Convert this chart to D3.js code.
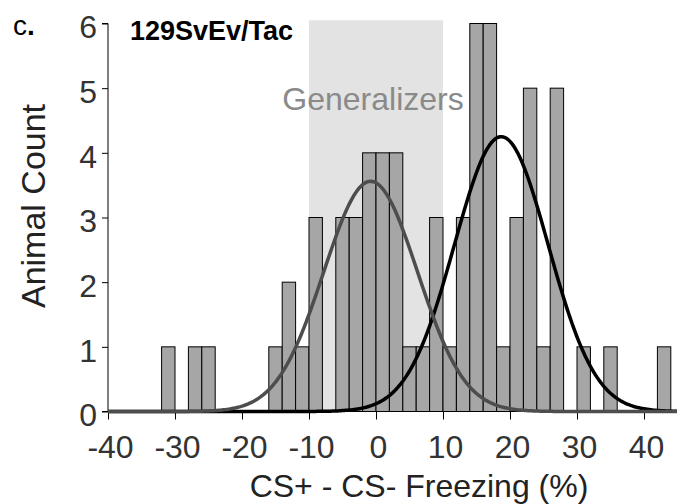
<!DOCTYPE html>
<html>
<head>
<meta charset="utf-8">
<script src="https://cdn.jsdelivr.net/npm/d3@7"></script>
<style>
  body { margin: 0; background: #fff; }
  text { font-family: "Liberation Sans", Arial, sans-serif; }
</style>
</head>
<body>
<svg id="chart" width="677" height="504"></svg>
<script>
// histogram bins (left edge, width 2) and counts
var binStarts = [-32, -28, -26, -16, -14, -12, -10, -6, -4, -2, 0, 2, 4, 6, 8, 10, 12, 14, 16, 18, 20, 22, 24, 26, 30, 34, 42];
var counts    = [  1,   1,   1,   1,   2,   1,   3,  3,  3,  4, 4, 4, 1, 1, 3,  1,  3,  6,  6,  1,  3,  5,  1,  5,  1,  1,  1];
var binWidth = 2;

// gaussian fits: [mean, sd, peak]
var fitNames = ["discriminators", "generalizers"];
var fitParams = [[18.7, 7.0, 4.25], [-0.8, 7.0, 3.56]];
var fitColors = ["#000000", "#4d4d4d"];

var xTicks = [-40, -30, -20, -10, 0, 10, 20, 30, 40];
var yTicks = [0, 1, 2, 3, 4, 5, 6];
var shadeRange = [-10, 10];

var svg = d3.select("#chart");
var x = d3.scaleLinear().domain([-40, 40]).range([108, 644]);
var y = d3.scaleLinear().domain([0, 6]).range([411.5, 23.5]);

// shaded generalizer band
svg.append("rect")
  .attr("x", x(shadeRange[0]))
  .attr("y", y(6.05))
  .attr("width", x(shadeRange[1]) - x(shadeRange[0]))
  .attr("height", y(0) - y(6.05))
  .attr("fill", "#e3e3e3");

svg.append("text")
  .attr("x", x(0) - 3)
  .attr("y", 110)
  .attr("text-anchor", "middle")
  .attr("font-size", 32)
  .attr("fill", "#8a8a8a")
  .text("Generalizers");

// bars
svg.append("g")
  .selectAll("rect")
  .data(binStarts)
  .enter().append("rect")
    .attr("x", function(d) { return x(d); })
    .attr("y", function(d, i) { return y(counts[i]); })
    .attr("width", function(d) { return x(d + binWidth) - x(d); })
    .attr("height", function(d, i) { return y(0) - y(counts[i]); })
    .attr("fill", "#a6a6a6")
    .attr("stroke", "#000")
    .attr("stroke-width", 1);

// axes
var fmt = function(d) { return String(d); };
var yAxis = d3.axisLeft(y).tickValues(yTicks).tickFormat(fmt).tickSize(6).tickPadding(5);
var gy = svg.append("g").attr("transform", "translate(108,0)").call(yAxis);
gy.select(".domain").attr("d", "M-6," + y(6) + "H0V" + y(0) + "H-6");
gy.selectAll("text").attr("font-size", 32).attr("fill", "#333").attr("dy", "0.45em");

var xAxis = d3.axisBottom(x).tickValues(xTicks).tickFormat(fmt).tickSize(8).tickPadding(15);
var gx = svg.append("g").attr("transform", "translate(0," + y(0) + ")").call(xAxis);
gx.select(".domain").attr("d", "M108,0H677");
gx.selectAll("text").attr("font-size", 32).attr("fill", "#333").attr("dy", "0.72em").attr("dx", 2);
svg.selectAll(".tick line").attr("stroke", "#000");

// fitted curves
var xs = d3.range(-40, 45.01, 0.25);
var line = d3.line()
  .x(function(d) { return x(d[0]); })
  .y(function(d) { return y(d[1]); });

svg.append("g")
  .selectAll("path")
  .data(fitParams)
  .enter().append("path")
    .attr("d", function(p) {
      return line(xs.map(function(v) {
        return [v, p[2] * Math.exp(-Math.pow(v - p[0], 2) / (2 * p[1] * p[1]))];
      }));
    })
    .attr("fill", "none")
    .attr("stroke", function(d, i) { return fitColors[i]; })
    .attr("stroke-width", 3.5);

// labels
var panel = svg.append("text")
  .attr("x", 13).attr("y", 35)
  .attr("font-size", 28);
panel.append("tspan").text("c");
panel.append("tspan").attr("font-weight", "bold").text(".");

svg.append("text")
  .attr("x", 130).attr("y", 40)
  .attr("font-size", 27).attr("font-weight", "bold")
  .text("129SvEv/Tac");

svg.append("text")
  .attr("transform", "translate(45,206) rotate(-90)")
  .attr("text-anchor", "middle")
  .attr("font-size", 34)
  .attr("fill", "#222")
  .text("Animal Count");

svg.append("text")
  .attr("x", 419).attr("y", 497)
  .attr("text-anchor", "middle")
  .attr("font-size", 32)
  .attr("fill", "#222")
  .text("CS+ - CS- Freezing (%)");
</script>
</body>
</html>
